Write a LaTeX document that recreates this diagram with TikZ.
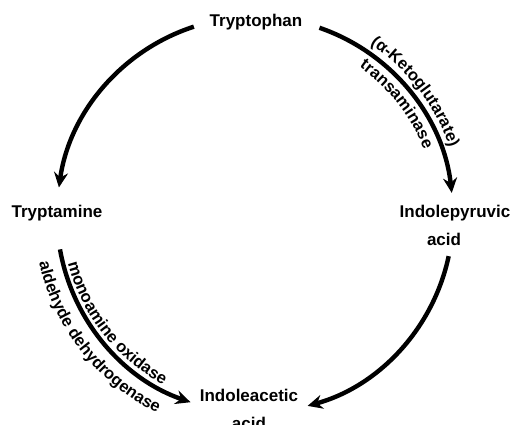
\documentclass[tikz,border=0pt]{standalone}
\usepackage{fontspec}
\setmainfont{Liberation Sans}
\usetikzlibrary{arrows.meta,decorations.text}
\newcommand{\cmpdfont}{\fontsize{17}{20}\selectfont\bfseries}
\newcommand{\enzfont}{\fontsize{16.5}{19}\selectfont\bfseries}

\begin{document}
\begin{tikzpicture}[x=1pt,y=1pt,
    cmpd/.style={font=\cmpdfont,inner sep=0pt,anchor=base},
    flow/.style={line width=4.4pt,-{Stealth[length=15pt,width=14pt,inset=5pt]}},
    enz/.style={decorate,decoration={text along path,text align=center,text={|\enzfont|#1}}}]
  \useasboundingbox (0,0) rectangle (510,424);
  \coordinate (c) at (255,209);
  \node[cmpd] (trp) at (256,397) {Tryptophan};
  \node[cmpd] (tra) at (57,207) {Tryptamine};
  \node[cmpd,align=center] (ipa) at (455,179) {Indolepyruvic\\[8pt]acid\kern22pt};
  \node[cmpd,align=center] (iaa) at (249,-5) {Indoleacetic\\[8pt]acid};
  \begin{scope}[flow]
    \draw ([shift={(108:198)}]c) arc[start angle=108,end angle=172,radius=198];
    \draw ([shift={(190:198)}]c) arc[start angle=190,end angle=251,radius=198];
    \draw ([shift={(71:198)}]c) arc[start angle=71,end angle=6.4,radius=198];
    \draw ([shift={(-12:198)}]c) arc[start angle=-12,end angle=-74.6,radius=198];
  \end{scope}
  \path[enz=(α-Ketoglutarate)] ([shift={(77.5:206)}]c) arc[start angle=77.5,end angle=-2.5,radius=206];
  \path[enz=transaminase] ([shift={(78:181)}]c) arc[start angle=78,end angle=-2,radius=181];
  \path[enz=monoamine oxidase] ([shift={(178:193)}]c) arc[start angle=178,end angle=258,radius=193];
  \path[enz=aldehyde dehydrogenase] ([shift={(178:221)}]c) arc[start angle=178,end angle=258,radius=221];
\end{tikzpicture}
\end{document}
